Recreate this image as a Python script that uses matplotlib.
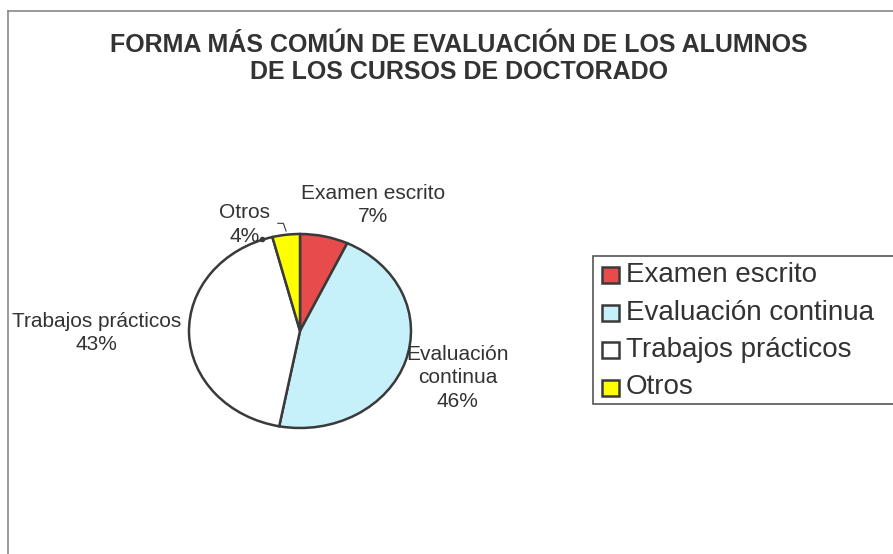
import numpy as np
import matplotlib.pyplot as plt
from matplotlib.patches import Rectangle

# data
categories = ['Examen escrito', 'Evaluación continua', 'Trabajos prácticos', 'Otros']
pie_labels = ['Examen escrito', 'Evaluación\ncontinua', 'Trabajos prácticos', 'Otros']
percent = [7, 46, 43, 4]
colors = ['#e84b4b', '#c6f1fa', '#ffffff', '#ffff00']
title_lines = ['FORMA MÁS COMÚN DE EVALUACIÓN DE LOS ALUMNOS', 'DE LOS CURSOS DE DOCTORADO']

plt.rcParams['font.family'] = ['Liberation Sans', 'DejaVu Sans']
txt = '#333333'
edge = '#3a3a3a'

fig = plt.figure(figsize=(8.93, 5.54), dpi=100)
W, H = 893, 554

# chart frame (left and top edges visible, the rest runs off the scan)
fig.add_artist(plt.Line2D([8 / W, 8 / W], [0, 1 - 11 / H], color='#888888', lw=1.2))
fig.add_artist(plt.Line2D([8 / W, 1], [1 - 11 / H, 1 - 11 / H], color='#888888', lw=1.2))

for i, line in enumerate(title_lines):
    fig.text(459 / W, 1 - (45 + 27 * i) / H, line, ha='center', va='center',
             fontsize=18, fontweight='bold', color=txt)

# pie axes: slightly elliptical like the original
cx, cy, rx, ry = 300, 331, 111, 97
ax = fig.add_axes([(cx - 1.25 * rx) / W, (H - cy - 1.25 * ry) / H, 2.5 * rx / W, 2.5 * ry / H])
wedges, _ = ax.pie(percent, colors=colors, startangle=90, counterclock=False,
                   wedgeprops=dict(edgecolor=edge, linewidth=1.8))
ax.set_aspect('auto')
ax.set_xlim(-1.25, 1.25)
ax.set_ylim(-1.25, 1.25)

# label positions (data units) in the style Excel placed them
label_pos = [(0.66, 1.30), (1.42, -0.48), (-1.83, -0.02), (-0.50, 1.10)]
for lab, p, (x, y) in zip(pie_labels, percent, label_pos):
    ax.text(x, y, f'{lab}\n{p}%', ha='center', va='center', fontsize=15,
            color=txt, linespacing=1.3, clip_on=False)

# leader line for "Otros"
w = wedges[3]
mid = np.deg2rad((w.theta1 + w.theta2) / 2)
ax.plot([-0.20, -0.15, np.cos(mid)], [1.11, 1.11, 1.03], color=edge, lw=0.8, clip_on=False)
ax.plot([-0.34], [0.95], 'o', color=edge, ms=3, clip_on=False)

# legend box running off the right edge
fig.add_artist(Rectangle((593 / W, 1 - 404 / H), (W - 593 + 20) / W, 148 / H,
                         transform=fig.transFigure, facecolor='white', edgecolor='#555555', lw=1.2))
for i, (c, col) in enumerate(zip(categories, colors)):
    yy = 1 - (275 + i * 37.5) / H
    fig.add_artist(Rectangle((602 / W, yy - 8 / H), 17 / W, 16 / H, transform=fig.transFigure,
                             facecolor=col, edgecolor=edge, lw=1.8))
    fig.text(626 / W, yy, c, ha='left', va='center', fontsize=20, color=txt)

fig.savefig('out.png', dpi=100)
